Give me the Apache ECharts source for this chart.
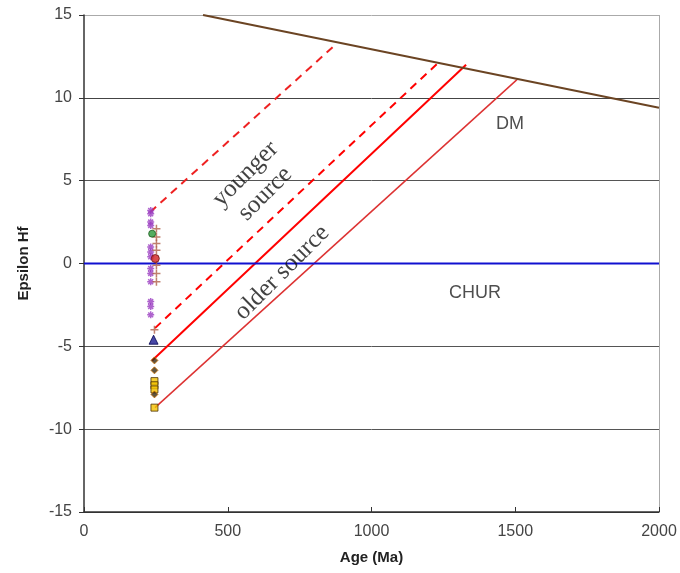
<!DOCTYPE html>
<html>
<head>
<meta charset="utf-8">
<script src="https://cdn.jsdelivr.net/npm/echarts@6/dist/echarts.min.js"></script>
<style>
  html, body { margin: 0; padding: 0; background: #fff; }
  #chart { width: 680px; height: 573px; }
</style>
</head>
<body>
<div id="chart"></div>
<script>
// Zircon Hf isotope data: [age (Ma), epsilon Hf]
const zirconPurple = [[232, 3.2], [232, 3.0], [232, 2.5], [232, 2.3], [232, 1.0], [232, 0.7], [232, 0.4],
                      [232, -0.3], [232, -0.6], [232, -1.1], [232, -2.3], [232, -2.6], [232, -3.1]];
const zirconBrown = [[252, 2.1], [252, 1.6], [252, 1.2], [252, 0.8], [252, -0.1], [252, -0.6], [252, -1.1], [245, -4.0]];
const zirconGreen = [[237, 1.8]];
const zirconRed = [[248, 0.3]];
const zirconBlue = [[242, -4.6]];
const zirconDark = [[245, -5.85], [245, -6.45], [245, -7.9]];
const zirconOrange = [[245, -7.1], [245, -7.35], [245, -7.6], [245, -8.7]];

// Reference evolution lines
const dmLine = [[414, 15], [2000, 9.4]];
const churLine = [[0, 0], [2000, 0]];

// Crustal evolution lines projected back to the depleted mantle
const youngerUpper = [[230, 3.1], [880, 13.3]];
const youngerLower = [[247, -3.9], [1231, 12.1]];
const olderUpper = [[237, -5.85], [1329, 12.0]];
const olderLower = [[247, -8.7], [1506, 11.1]];

// Axis ticks
const xTicks = [0, 500, 1000, 1500, 2000];
const yTicks = [-15, -10, -5, 0, 5, 10, 15];

// Text annotations anchored in data space: [age, epsilon, text]
const sansNotes = [[1482, 8.4, 'DM'], [1360, -1.8, 'CHUR']];
const serifNotes = [[596, 4.8, 'younger\nsource'], [689, -0.55, 'older source']];

const chart = echarts.init(document.getElementById('chart'), null, { renderer: 'canvas' });

const sans = '"Liberation Sans", Arial, sans-serif';
const serif = '"Liberation Serif", "Times New Roman", serif';

function scatter(data, symbol, size, style, z) {
  return { type: 'scatter', data: data, symbol: symbol, symbolSize: size, itemStyle: style, z: z || 5, silent: true };
}
function line(data, color, width, type, z) {
  return { type: 'line', data: data, symbol: 'none', lineStyle: { color: color, width: width, type: type },
           z: z || 3, silent: true, animation: false };
}

const asterisk = 'path://M0,5L10,5M5,0L5,10M1.5,1.5L8.5,8.5M8.5,1.5L1.5,8.5';
const plus = 'path://M0,5L10,5M5,0L5,10';

chart.setOption({
  animation: false,
  grid: { left: 84, right: 21, top: 15, bottom: 61 },
  xAxis: {
    type: 'value', min: xTicks[0], max: xTicks[xTicks.length - 1], interval: 500,
    name: 'Age (Ma)', nameLocation: 'middle', nameGap: 38,
    nameTextStyle: { fontFamily: sans, fontSize: 15, fontWeight: 'bold', color: '#222' },
    axisLine: { show: true, onZero: false, lineStyle: { color: '#333', width: 1.5 } },
    axisTick: { show: true, inside: true, length: 5, lineStyle: { color: '#333' } },
    axisLabel: { fontFamily: sans, fontSize: 16, color: '#444', margin: 12, formatter: v => String(v) },
    splitLine: { show: true, lineStyle: { color: ['transparent', 'transparent', 'transparent', 'transparent', '#aaa'], width: 1 } }
  },
  yAxis: {
    type: 'value', min: yTicks[0], max: yTicks[yTicks.length - 1], interval: 5,
    name: 'Epsilon Hf', nameLocation: 'middle', nameGap: 53,
    nameTextStyle: { fontFamily: sans, fontSize: 15, fontWeight: 'bold', color: '#222' },
    axisLine: { show: true, onZero: false, lineStyle: { color: '#333', width: 1.5 } },
    axisTick: { show: true, length: 5, lineStyle: { color: '#333' } },
    axisLabel: { fontFamily: sans, fontSize: 16, color: '#444', margin: 12, formatter: v => String(v) },
    splitLine: { show: true, lineStyle: { color: ['#333', '#555', '#555', '#555', '#555', '#444', '#aaa'], width: 1 } }
  },
  series: [
    line(dmLine, '#6b4423', 2, 'solid', 4),
    line(churLine, '#1010d0', 2, 'solid', 4),
    line(youngerUpper, '#ee2222', 2, [8, 6]),
    line(youngerLower, '#ff0000', 2, [8, 6]),
    line(olderUpper, '#ff0000', 2, 'solid'),
    line(olderLower, '#dd3333', 1.5, 'solid'),
    scatter(zirconPurple, asterisk, 7, { color: 'none', borderColor: '#9a3cc0', borderWidth: 1.5 }),
    scatter(zirconBrown, plus, 8, { color: 'none', borderColor: '#b0604a', borderWidth: 1.5 }),
    scatter(zirconGreen, 'circle', 7, { color: '#2a9a3a', borderColor: '#1d5a1d', borderWidth: 1 }),
    scatter(zirconRed, 'circle', 8, { color: '#d02020', borderColor: '#6a1010', borderWidth: 1 }),
    scatter(zirconBlue, 'triangle', 9, { color: '#1a1a90', borderColor: '#000050', borderWidth: 1 }),
    scatter(zirconOrange, 'rect', 7, { color: '#f2c200', borderColor: '#4a3000', borderWidth: 1 }),
    scatter(zirconDark, 'diamond', 7, { color: '#3a2a10', borderColor: '#d07000', borderWidth: 1 }),
    {
      type: 'scatter', silent: true, symbolSize: 0, z: 10,
      data: sansNotes.map(n => ({ value: [n[0], n[1]], name: n[2] })),
      label: { show: true, position: 'inside', formatter: p => p.name,
               fontFamily: sans, fontSize: 18, color: '#222' }
    },
    {
      type: 'scatter', silent: true, symbolSize: 0, z: 10,
      data: serifNotes.map(n => ({ value: [n[0], n[1]], name: n[2] })),
      label: { show: true, position: 'inside', formatter: p => p.name, rotate: 45,
               align: 'center', verticalAlign: 'middle', lineHeight: 28,
               fontFamily: serif, fontSize: 25, color: '#111' }
    }
  ]
});
</script>
</body>
</html>
